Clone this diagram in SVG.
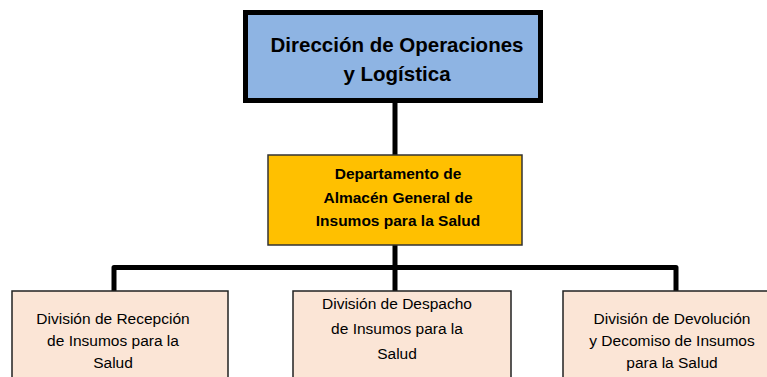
<svg xmlns="http://www.w3.org/2000/svg" width="767" height="377" viewBox="0 0 767 377">
<style>
.conn{fill:none;stroke:#000;stroke-width:5;stroke-linejoin:round}
.t{font-family:"Liberation Sans",Arial,sans-serif;fill:#000;text-anchor:middle}
.b{font-weight:bold}
.div{fill:#FBE5D6;stroke:#222;stroke-width:1.5}
</style>
<rect width="767" height="377" fill="#fff"/>
<g id="connectors">
<path class="conn" d="M395,103 V155"/>
<path class="conn" d="M395,245 V291"/>
<path class="conn" d="M114,291 V267.5 H676 V291"/>
</g>
<g id="direccion">
<rect x="245.5" y="12.5" width="295" height="88" fill="#8EB4E3" stroke="#000" stroke-width="5"/>
<text class="t b" x="397" y="52" font-size="20.5">Dirección de Operaciones</text>
<text class="t b" x="397" y="81" font-size="20.5">y Logística</text>
</g>
<g id="departamento">
<rect x="268" y="155" width="254" height="90" fill="#FFC000" stroke="#333" stroke-width="1.5"/>
<text class="t b" x="398" y="179" font-size="15.5">Departamento de</text>
<text class="t b" x="398" y="203" font-size="15.5">Almacén General de</text>
<text class="t b" x="398" y="226" font-size="15.5">Insumos para la Salud</text>
</g>
<g id="recepcion">
<rect class="div" x="12" y="291" width="216" height="100"/>
<text class="t" x="113" y="324" font-size="15.5">División de Recepción</text>
<text class="t" x="113" y="346" font-size="15.5">de Insumos para la</text>
<text class="t" x="113" y="368" font-size="15.5">Salud</text>
</g>
<g id="despacho">
<rect class="div" x="293" y="291" width="218" height="100"/>
<text class="t" x="397" y="309" font-size="15.5">División de Despacho</text>
<text class="t" x="397" y="334" font-size="15.5">de Insumos para la</text>
<text class="t" x="397" y="359" font-size="15.5">Salud</text>
</g>
<g id="devolucion">
<rect class="div" x="563" y="291" width="218" height="100"/>
<text class="t" x="672" y="324" font-size="15.5">División de Devolución</text>
<text class="t" x="672" y="346" font-size="15.5">y Decomiso de Insumos</text>
<text class="t" x="672" y="368" font-size="15.5">para la Salud</text>
</g>
</svg>
